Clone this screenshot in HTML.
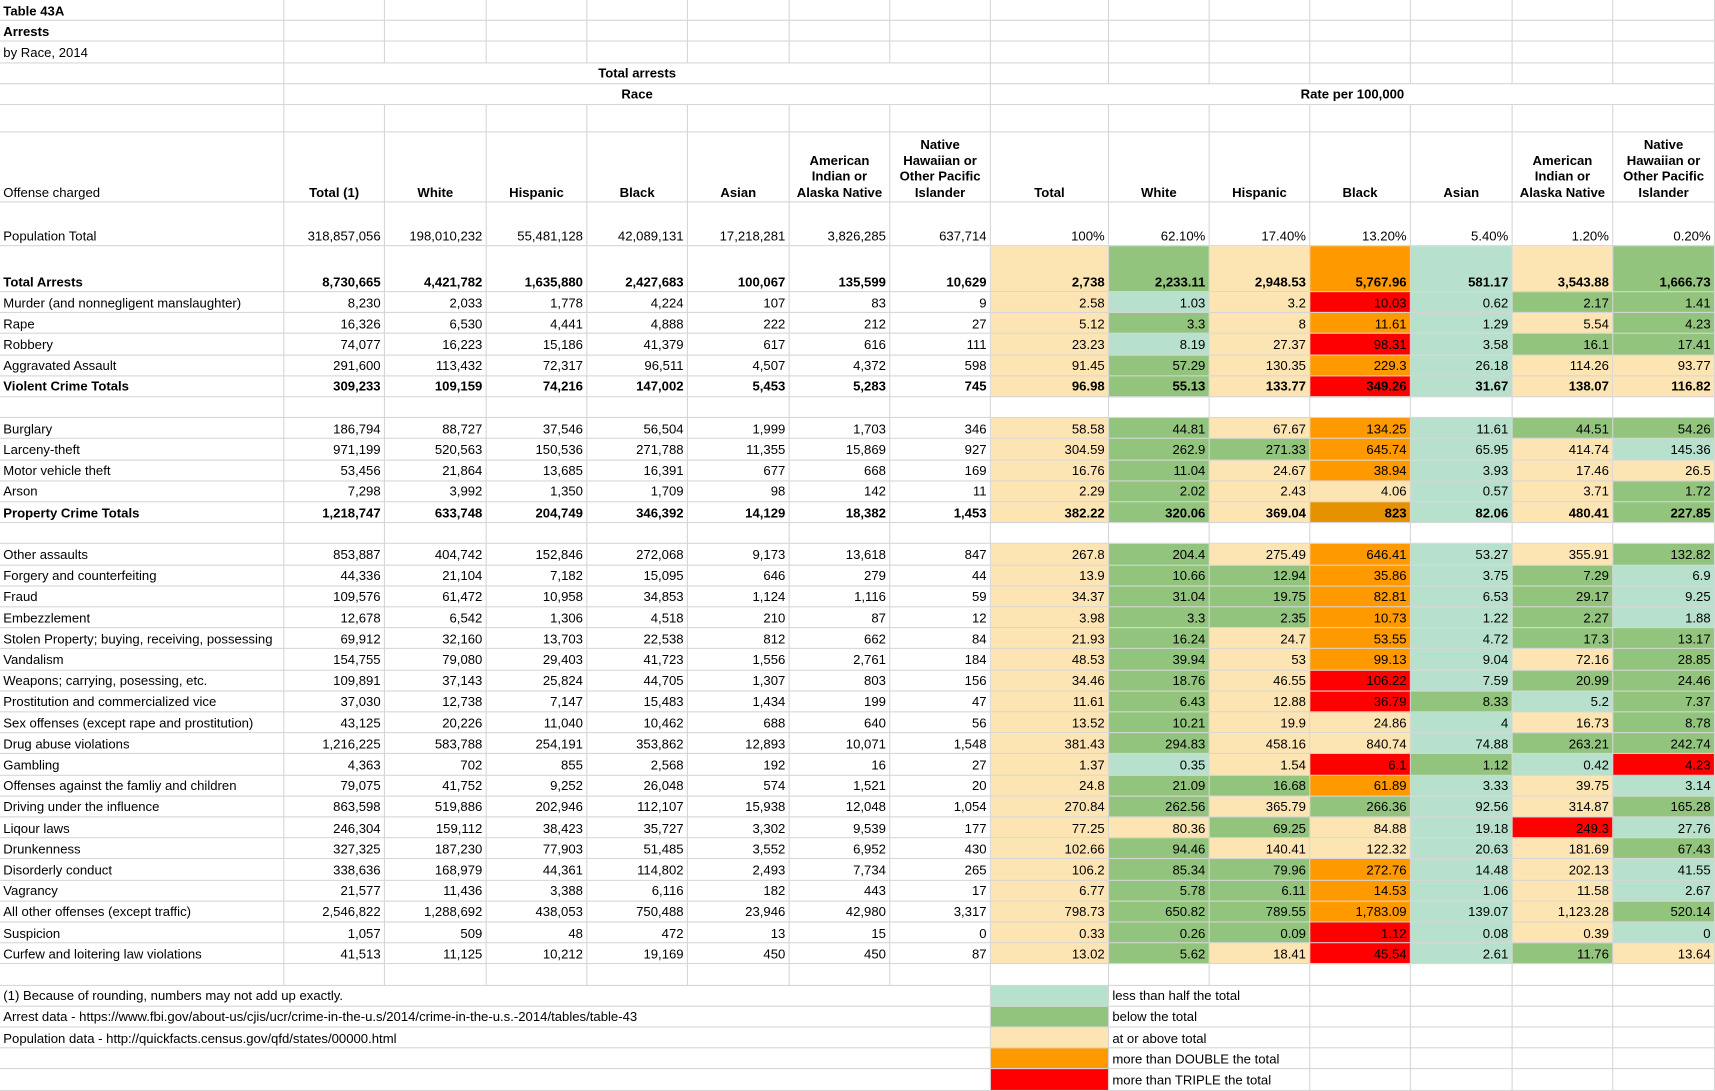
<!DOCTYPE html>
<html><head><meta charset="utf-8">
<style>
html,body{margin:0;padding:0;background:#fff;}
body{width:1715px;height:1091px;overflow:hidden;}
#sheet{position:absolute;left:0;top:0;width:1568px;height:997px;transform:scale(1.09375,1.0943);transform-origin:0 0;font-family:"Liberation Sans",Arial,sans-serif;font-size:12px;color:#000;}
.c{position:absolute;box-sizing:border-box;border-right:1px solid #d6d6d6;border-bottom:1px solid #d6d6d6;display:flex;align-items:flex-end;padding:0 3px 1px 3px;white-space:nowrap;overflow:visible;line-height:14.5px;}
.r{justify-content:flex-end;}
.m{justify-content:center;text-align:center;}
.b{font-weight:bold;}
</style></head>
<body>
<div id="sheet"></div>
<script>
const colX = [0,260,352,445,537,629,722,814,906,1014,1106,1198,1290,1383,1475,1568];
const populationCounts = [318857056,198010232,55481128,42089131,17218281,3826285,637714];
const populationShares = ["100%","62.10%","17.40%","13.20%","5.40%","1.20%","0.20%"];
const raceHeaders = ["Total (1)","White","Hispanic","Black","Asian","American<br>Indian or<br>Alaska Native","Native<br>Hawaiian or<br>Other Pacific<br>Islander"];
const rateHeaders = ["Total","White","Hispanic","Black","Asian","American<br>Indian or<br>Alaska Native","Native<br>Hawaiian or<br>Other Pacific<br>Islander"];
const offenses = ["Total Arrests","Murder (and nonnegligent manslaughter)","Rape","Robbery","Aggravated Assault","Violent Crime Totals","","Burglary","Larceny-theft","Motor vehicle theft","Arson","Property Crime Totals","","Other assaults","Forgery and counterfeiting","Fraud","Embezzlement","Stolen Property; buying, receiving, possessing","Vandalism","Weapons; carrying, posessing, etc.","Prostitution and commercialized vice","Sex offenses (except rape and prostitution)","Drug abuse violations","Gambling","Offenses against the famliy and children","Driving under the influence","Liqour laws","Drunkenness","Disorderly conduct","Vagrancy","All other offenses (except traffic)","Suspicion","Curfew and loitering law violations"];
const boldRows = [0,5,11];
const arrestCounts = [
[8730665,4421782,1635880,2427683,100067,135599,10629],
[8230,2033,1778,4224,107,83,9],
[16326,6530,4441,4888,222,212,27],
[74077,16223,15186,41379,617,616,111],
[291600,113432,72317,96511,4507,4372,598],
[309233,109159,74216,147002,5453,5283,745],
null,
[186794,88727,37546,56504,1999,1703,346],
[971199,520563,150536,271788,11355,15869,927],
[53456,21864,13685,16391,677,668,169],
[7298,3992,1350,1709,98,142,11],
[1218747,633748,204749,346392,14129,18382,1453],
null,
[853887,404742,152846,272068,9173,13618,847],
[44336,21104,7182,15095,646,279,44],
[109576,61472,10958,34853,1124,1116,59],
[12678,6542,1306,4518,210,87,12],
[69912,32160,13703,22538,812,662,84],
[154755,79080,29403,41723,1556,2761,184],
[109891,37143,25824,44705,1307,803,156],
[37030,12738,7147,15483,1434,199,47],
[43125,20226,11040,10462,688,640,56],
[1216225,583788,254191,353862,12893,10071,1548],
[4363,702,855,2568,192,16,27],
[79075,41752,9252,26048,574,1521,20],
[863598,519886,202946,112107,15938,12048,1054],
[246304,159112,38423,35727,3302,9539,177],
[327325,187230,77903,51485,3552,6952,430],
[338636,168979,44361,114802,2493,7734,265],
[21577,11436,3388,6116,182,443,17],
[2546822,1288692,438053,750488,23946,42980,3317],
[1057,509,48,472,13,15,0],
[41513,11125,10212,19169,450,450,87]];
const arrestRates = [
[2738,2233.11,2948.53,5767.96,581.17,3543.88,1666.73],
[2.58,1.03,3.2,10.03,0.62,2.17,1.41],
[5.12,3.3,8,11.61,1.29,5.54,4.23],
[23.23,8.19,27.37,98.31,3.58,16.1,17.41],
[91.45,57.29,130.35,229.3,26.18,114.26,93.77],
[96.98,55.13,133.77,349.26,31.67,138.07,116.82],
null,
[58.58,44.81,67.67,134.25,11.61,44.51,54.26],
[304.59,262.9,271.33,645.74,65.95,414.74,145.36],
[16.76,11.04,24.67,38.94,3.93,17.46,26.5],
[2.29,2.02,2.43,4.06,0.57,3.71,1.72],
[382.22,320.06,369.04,823,82.06,480.41,227.85],
null,
[267.8,204.4,275.49,646.41,53.27,355.91,132.82],
[13.9,10.66,12.94,35.86,3.75,7.29,6.9],
[34.37,31.04,19.75,82.81,6.53,29.17,9.25],
[3.98,3.3,2.35,10.73,1.22,2.27,1.88],
[21.93,16.24,24.7,53.55,4.72,17.3,13.17],
[48.53,39.94,53,99.13,9.04,72.16,28.85],
[34.46,18.76,46.55,106.22,7.59,20.99,24.46],
[11.61,6.43,12.88,36.79,8.33,5.2,7.37],
[13.52,10.21,19.9,24.86,4,16.73,8.78],
[381.43,294.83,458.16,840.74,74.88,263.21,242.74],
[1.37,0.35,1.54,6.1,1.12,0.42,4.23],
[24.8,21.09,16.68,61.89,3.33,39.75,3.14],
[270.84,262.56,365.79,266.36,92.56,314.87,165.28],
[77.25,80.36,69.25,84.88,19.18,249.3,27.76],
[102.66,94.46,140.41,122.32,20.63,181.69,67.43],
[106.2,85.34,79.96,272.76,14.48,202.13,41.55],
[6.77,5.78,6.11,14.53,1.06,11.58,2.67],
[798.73,650.82,789.55,1783.09,139.07,1123.28,520.14],
[0.33,0.26,0.09,1.12,0.08,0.39,0],
[13.02,5.62,18.41,45.54,2.61,11.76,13.64]];
const colorCodes = ["YGYOTYG","YTYRTGG","YGYOTYG","YTYRTGG","YGYOTYY","YGYRTYY","",
"YGYOTGG","YGGOTYT","YGYOTYY","YGYYTYG","YGYDTYG","",
"YGYOTYG","YGGOTGT","YGGOTGT","YGGOTGT","YGYOTGG","YGYOTYG","YGYRTGG","YGYRGTG","YGYYTYG","YGYYTGG","YTYRGTR","YGGOTYT","YGYGTYG","YYGYTRT","YGYYTYG","YGGOTYT","YGGOTYT","YGGOTYG","YGGRTYT","YGYRTGY"];
const palette = {T:"#b7e1cd",G:"#93c47d",Y:"#fce5b3",O:"#ff9900",D:"#e69100",R:"#ff0000"};
const legendCodes = ["T","G","Y","O","R"];
const legendLabels = ["less than half the total","below the total","at or above total","more than DOUBLE the total","more than TRIPLE the total"];
const footNotes = ["(1) Because of rounding, numbers may not add up exactly.","Arrest data - https://www.fbi.gov/about-us/cjis/ucr/crime-in-the-u.s/2014/crime-in-the-u.s.-2014/tables/table-43","Population data - http://quickfacts.census.gov/qfd/states/00000.html","",""];

const sheet = document.getElementById('sheet');
function fmt(v){
  const s = String(v).split('.');
  s[0] = s[0].replace(/\B(?=(\d{3})+(?!\d))/g, ',');
  return s.join('.');
}
function cell(x0,x1,y0,y1,html,cls,bg,name){
  const d = document.createElement('div');
  d.className = 'c ' + (cls||'');
  d.style.left = x0+'px'; d.style.top = y0+'px';
  d.style.width = (x1-x0)+'px'; d.style.height = (y1-y0)+'px';
  if(bg){ d.style.background = bg; }
  d.innerHTML = html || '';
  
  
  sheet.appendChild(d);
  return d;
}
// top rows
const topTitles = [["Table 43A","b"],["Arrests","b"],["by Race, 2014",""]];
for(let i=0;i<3;i++){
  const y0=i*19.2, y1=y0+19.2;
  cell(0,260,y0,y1,topTitles[i][0],topTitles[i][1],null,'title-line');
  for(let c=1;c<15;c++) cell(colX[c],colX[c+1],y0,y1,'','',null,'empty-cell');
}
cell(0,260,57.6,76.8,'','',null,'empty-cell');
cell(260,906,57.6,76.8,'Total arrests','m b',null,'total-arrests-header');
for(let c=8;c<15;c++) cell(colX[c],colX[c+1],57.6,76.8,'','',null,'empty-cell');
cell(0,260,76.8,96,'','',null,'empty-cell');
cell(260,906,76.8,96,'Race','m b',null,'race-header');
cell(906,1568,76.8,96,'Rate per 100,000','m b',null,'rate-header');
for(let c=0;c<15;c++) cell(colX[c],colX[c+1],96,121,'','',null,'empty-cell');
// header row
cell(0,260,121,185,'Offense charged','',null,'offense-column-header');
for(let c=0;c<7;c++) cell(colX[c+1],colX[c+2],121,185,raceHeaders[c],'m b',null,'count-column-header');
for(let c=0;c<7;c++) cell(colX[c+8],colX[c+9],121,185,rateHeaders[c],'m b',null,'rate-column-header');
// population row
cell(0,260,185,225,'Population Total','',null,'population-label');
for(let c=0;c<7;c++) cell(colX[c+1],colX[c+2],185,225,fmt(populationCounts[c]),'r',null,'population-count');
for(let c=0;c<7;c++) cell(colX[c+8],colX[c+9],185,225,populationShares[c],'r',null,'population-share');
// data rows
let y = 225;
for(let i=0;i<offenses.length;i++){
  const h = i===0 ? 42 : 19.2;
  const bold = boldRows.indexOf(i)>=0 ? ' b' : '';
  cell(0,260,y,y+h,offenses[i],bold.trim(),null,'offense-label');
  const cnt = arrestCounts[i], rt = arrestRates[i], codes = colorCodes[i];
  for(let c=0;c<7;c++){
    cell(colX[c+1],colX[c+2],y,y+h,cnt?fmt(cnt[c]):'','r'+bold,null,'arrest-count');
  }
  for(let c=0;c<7;c++){
    cell(colX[c+8],colX[c+9],y,y+h,rt?fmt(rt[c]):'','r'+bold,rt?palette[codes[c]]:null,'arrest-rate');
  }
  y += h;
}
// blank row
for(let c=0;c<15;c++) cell(colX[c],colX[c+1],y,y+19.2,'','',null,'empty-cell');
y += 19.2;
// footnotes + legend
for(let i=0;i<5;i++){
  cell(0,906,y,y+19.2,footNotes[i],'',null,'footnote');
  cell(906,1014,y,y+19.2,'','',palette[legendCodes[i]],'legend-swatch');
  cell(1014,1198,y,y+19.2,legendLabels[i],'',null,'legend-label');
  for(let c=11;c<15;c++) cell(colX[c],colX[c+1],y,y+19.2,'','',null,'empty-cell');
  y += 19.2;
}
</script>
</body></html>
